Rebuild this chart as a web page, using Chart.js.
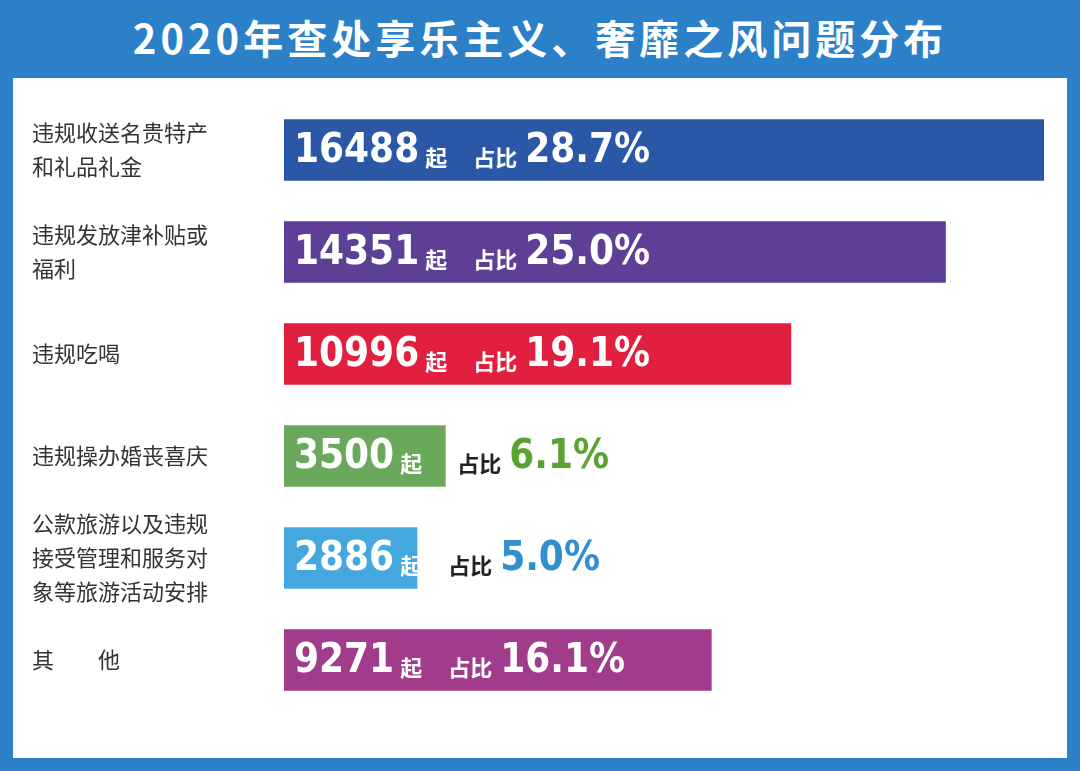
<!DOCTYPE html>
<html><head><meta charset="utf-8">
<script src="https://cdn.jsdelivr.net/npm/chart.js@4/dist/chart.umd.min.js"></script>
<style>
body{margin:0;width:1080px;height:771px;background:#2b80c7;position:relative;overflow:hidden;font-family:"Noto Sans CJK SC",sans-serif}
#title{position:absolute;left:0;top:8px;width:1080px;text-align:center;color:#fff;font-size:40px;font-weight:bold;letter-spacing:4px}
#panel{position:absolute;left:13px;top:78px;width:1054px;height:680px;background:#fff}
#wrap{position:absolute;left:0;top:0;width:1080px;height:771px}
</style></head><body>
<div id="title">2020年查处享乐主义、奢靡之风问题分布</div>
<div id="panel"></div>
<div id="wrap"><canvas id="chart"></canvas></div>
<script>
const categories = [['违规收送名贵特产','和礼品礼金'],['违规发放津补贴或','福利'],['违规吃喝'],['违规操办婚丧喜庆'],['公款旅游以及违规','接受管理和服务对','象等旅游活动安排'],['其　　他']];
const counts = [16488, 14351, 10996, 3500, 2886, 9271];
const shares = ['28.7%', '25.0%', '19.1%', '6.1%', '5.0%', '16.1%'];
const colors = ['#2b57a7', '#5e3f96', '#e11f3e', '#6aa85b', '#44a8df', '#a13c8c'];
const pctColors = ['#fff', '#fff', '#fff', '#5aa232', '#2f8fcf', '#fff'];

const labelsPlugin = {
  id: 'labels',
  afterDatasetsDraw(chart) {
    const ctx = chart.ctx;
    const meta = chart.getDatasetMeta(0);
    const numFont = 'bold 40px "Liberation Sans Narrow", "DejaVu Sans Condensed", sans-serif';
    const cjkFont = 'bold 22px "Noto Sans CJK SC"';
    ctx.save();
    ctx.textBaseline = 'middle';
    meta.data.forEach((bar, i) => {
      const y = bar.y;
      // category label
      ctx.fillStyle = '#333';
      ctx.font = '22px "Noto Sans CJK SC"';
      ctx.textAlign = 'left';
      const lines = categories[i];
      lines.forEach((l, k) => {
        ctx.fillText(l, 32, y + (k - (lines.length - 1) / 2) * 34);
      });
      // number + 起
      let x = chart.chartArea.left + 10;
      ctx.fillStyle = '#fff';
      ctx.font = numFont;
      ctx.fillText(String(counts[i]), x, y + 2);
      x += ctx.measureText(String(counts[i])).width + 6;
      ctx.font = cjkFont;
      ctx.fillText('起', x, y + 8);
      x += 48;
      const inside = pctColors[i] === '#fff';
      if (!inside) x = Math.max(x, bar.x + 12);
      ctx.fillStyle = inside ? '#fff' : '#222';
      ctx.fillText('占比', x, y + 8);
      x += 52;
      ctx.fillStyle = pctColors[i];
      ctx.font = numFont;
      ctx.fillText(shares[i], x, y + 2);
    });
    ctx.restore();
  }
};

new Chart(document.getElementById('chart'), {
  type: 'bar',
  data: {
    labels: categories.map(c => c.join('')),
    datasets: [{ data: counts, backgroundColor: colors, barThickness: 61, borderSkipped: false }]
  },
  options: {
    indexAxis: 'y',
    responsive: true,
    maintainAspectRatio: false,
    animation: false,
    layout: { padding: { left: 284, right: 36, top: 99, bottom: 60 } },
    plugins: { legend: { display: false }, tooltip: { enabled: false } },
    scales: {
      x: { min: 0, max: 16488, display: false },
      y: { display: false }
    }
  },
  plugins: [labelsPlugin]
});
</script>
</body></html>
